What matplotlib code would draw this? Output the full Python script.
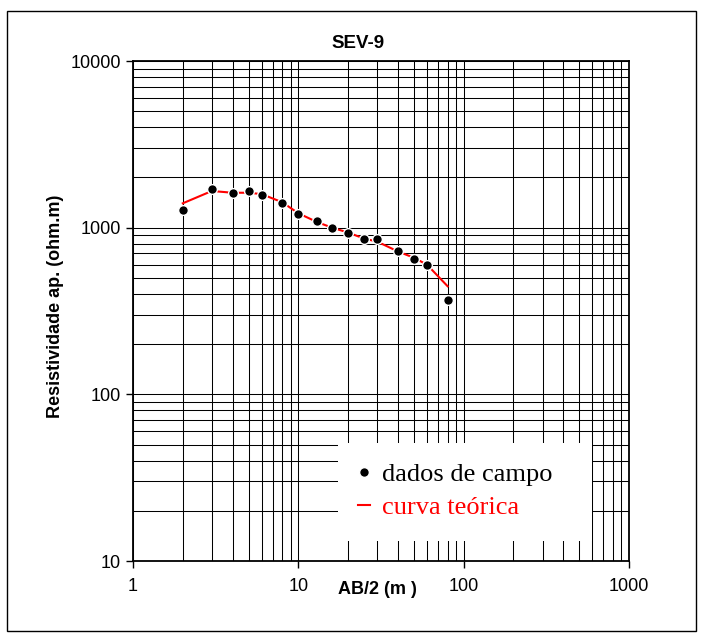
import matplotlib
matplotlib.use("Agg")
import matplotlib.pyplot as plt
from matplotlib.patches import Rectangle
from matplotlib.lines import Line2D
from matplotlib.ticker import LogLocator, FixedLocator, FixedFormatter, NullFormatter

# Data
ab2 = [2, 3, 4, 5, 6, 8, 10, 13, 16, 20, 25, 30, 40, 50, 60, 80]
rho_campo = [1280, 1710, 1620, 1670, 1580, 1410, 1210, 1090, 1000, 930, 850, 850, 720, 650, 600, 370]
rho_teorica = [1400, 1660, 1620, 1620, 1590, 1420, 1220, 1080, 1000, 935, 860, 825, 720, 660, 600, 445]

x_ticks = [1, 10, 100, 1000]
x_ticklabels = ["1", "10", "100", "1000"]
y_ticks = [10, 100, 1000, 10000]
y_ticklabels = ["10", "100", "1000", "10000"]

title = "SEV-9"
xlabel = "AB/2 (m )"
ylabel = "Resistividade ap. (ohm.m)"
legend_labels = ["dados de campo", "curva teórica"]

W, H = 706, 641
fig = plt.figure(figsize=(W / 100, H / 100), dpi=100)
sans = ["Liberation Sans", "DejaVu Sans"]
serif = ["Liberation Serif", "DejaVu Serif"]

def fx(px):
    return px / W

def fy(py):
    return 1 - py / H

ax = fig.add_axes([fx(133), fy(561), fx(629) - fx(133), fy(61) - fy(561)])
ax.set_xscale("log")
ax.set_yscale("log")
ax.set_xlim(1, 1000)
ax.set_ylim(10, 10000)

ax.xaxis.set_major_locator(FixedLocator(x_ticks))
ax.xaxis.set_major_formatter(FixedFormatter(x_ticklabels))
ax.yaxis.set_major_locator(FixedLocator(y_ticks))
ax.yaxis.set_major_formatter(FixedFormatter(y_ticklabels))
ax.xaxis.set_minor_locator(LogLocator(base=10, subs=range(2, 10)))
ax.yaxis.set_minor_locator(LogLocator(base=10, subs=range(2, 10)))
ax.xaxis.set_minor_formatter(NullFormatter())
ax.yaxis.set_minor_formatter(NullFormatter())

ax.set_axisbelow(True)
ax.grid(True, which="both", color="black", linewidth=0.75)
ax.tick_params(which="major", direction="out", length=5, width=1, color="black",
               labelsize=13)
ax.tick_params(axis="x", which="major", pad=7)
ax.tick_params(axis="y", which="major", pad=3.5)
ax.tick_params(which="minor", length=0)
for lab in ax.get_xticklabels() + ax.get_yticklabels():
    lab.set_family(sans)
for s in ax.spines.values():
    s.set_linewidth(1.3)
    s.set_color("black")

# white legend area hiding grid
ax.add_patch(Rectangle((fx(338), fy(541)), fx(592) - fx(338), fy(443) - fy(541),
                       transform=fig.transFigure, facecolor="white", edgecolor="none",
                       zorder=1))

ax.plot(ab2, rho_teorica, color="red", linewidth=1.5, zorder=3)
ax.plot(ab2, rho_campo, linestyle="none", marker="o", markersize=7,
        markerfacecolor="black", markeredgecolor="white", markeredgewidth=1, zorder=4)

handles = [
    Line2D([], [], linestyle="none", marker="o", markersize=7,
           markerfacecolor="black", markeredgecolor="white", markeredgewidth=1),
    Line2D([], [], color="red", linewidth=1.5),
]
leg = ax.legend(handles, legend_labels, loc="upper left",
                bbox_to_anchor=(fx(358), fy(463)), bbox_transform=fig.transFigure,
                frameon=False, handlelength=0.45, handletextpad=0.45,
                labelspacing=0.35, borderpad=0, borderaxespad=0,
                prop={"family": serif, "size": 19},
                labelcolor=["black", "red"])
leg.set_zorder(5)

fig.text(fx(358), fy(43), title, ha="center", va="center",
         fontsize=13.5, fontweight="bold", family=sans)
fig.text(fx(377), fy(590), xlabel, ha="center", va="center",
         fontsize=13, fontweight="bold", family=sans)
fig.text(fx(56), fy(306), ylabel, ha="center", va="center", rotation=90,
         fontsize=13, fontweight="bold", family=sans)

# outer border
fig.add_artist(Rectangle((fx(7), fy(631)), fx(696) - fx(7), fy(11) - fy(631),
                         transform=fig.transFigure, facecolor="none",
                         edgecolor="black", linewidth=1))

fig.savefig("out.png", dpi=100)
